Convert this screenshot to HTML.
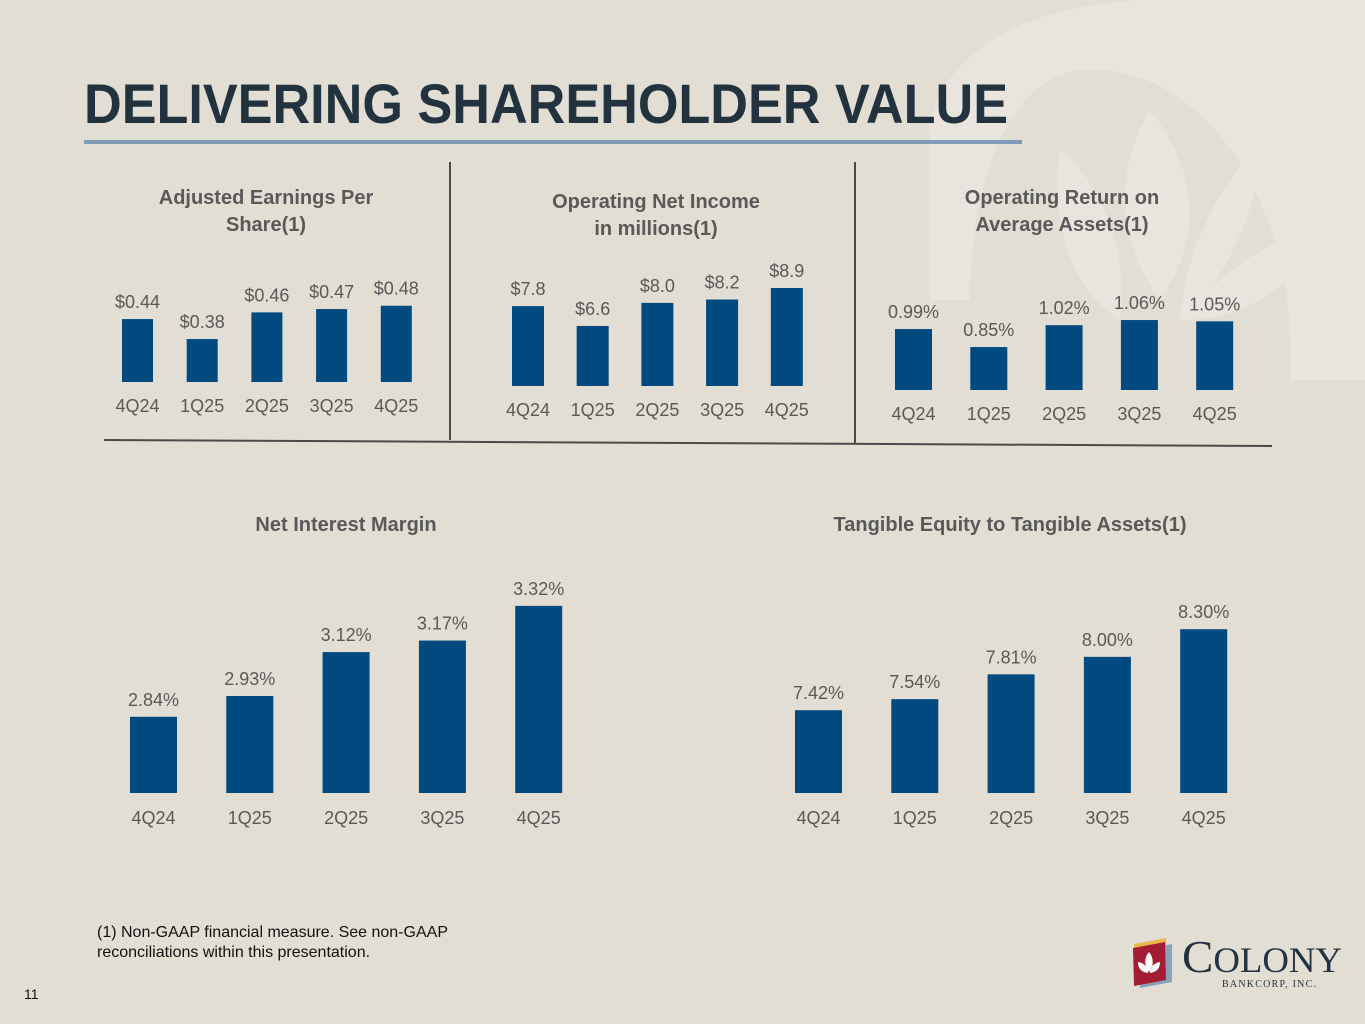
<!DOCTYPE html>
<html><head><meta charset="utf-8">
<style>
html,body{margin:0;padding:0;background:#e2ded4;}
svg{display:block;font-family:"Liberation Sans",sans-serif;}
</style></head>
<body>
<svg id="s" width="1365" height="1024" viewBox="0 0 1365 1024">
  <rect width="1365" height="1024" fill="#e2ded4"/>
  <g fill="#e9e5de">
    <path d="M930 120 C960 20 1080 -10 1250 0 L1365 0 L1365 380 L1290 380 C1300 200 1200 60 1080 70 C1000 80 970 200 970 300 L930 300 Z"/>
    <path d="M1150 110 C1190 160 1210 230 1160 300 C1110 230 1120 160 1150 110 Z"/>
    <path d="M1060 150 C1100 180 1130 250 1120 320 C1070 290 1050 220 1060 150 Z"/>
    <path d="M1265 140 C1255 220 1220 290 1180 320 C1185 250 1220 180 1265 140 Z"/>
    <path d="M1335 215 C1300 290 1240 320 1180 320 C1220 270 1280 235 1335 215 Z"/>
  </g>
  <text x="84" y="123" font-size="56" font-weight="bold" fill="#22323f" textLength="924" lengthAdjust="spacingAndGlyphs">DELIVERING SHAREHOLDER VALUE</text>
  <rect x="84" y="140" width="938" height="4" fill="#7f9bb5"/>
  <line x1="450" y1="162" x2="450" y2="440" stroke="#4a4a4a" stroke-width="2"/>
  <line x1="855" y1="162" x2="855" y2="443" stroke="#4a4a4a" stroke-width="2"/>
  <line x1="104" y1="440" x2="1272" y2="446" stroke="#4a4a4a" stroke-width="2"/>
  <g id="charts"></g>
  <text font-size="16" fill="#111"><tspan x="97" y="937">(1) Non-GAAP financial measure. See non-GAAP</tspan><tspan x="97" y="957">reconciliations within this presentation.</tspan></text>
  <text x="24" y="999" font-size="14" fill="#111">11</text>
  <g>
    <path d="M1134 944 L1166 938 L1168 978 L1136 984 Z" fill="#e8b84a"/>
    <path d="M1140 950 L1172 944 L1172 982 L1140 988 Z" fill="#8aa2b8"/>
    <path d="M1133 948 L1165 942 L1166 980 L1134 986 Z" fill="#a31d35"/>
    <path d="M1149 952 C1154 958 1154 966 1149 972 C1144 966 1144 958 1149 952 Z M1138 962 C1145 963 1148 968 1148 973 C1141 972 1138 968 1138 962 Z M1160 962 C1153 963 1150 968 1150 973 C1157 972 1160 968 1160 962 Z" fill="#fff"/>
    <text x="1182" y="972" font-family="Liberation Serif,serif" font-size="46" fill="#22323f" textLength="160" lengthAdjust="spacingAndGlyphs">C<tspan font-size="36">OLONY</tspan></text>
    <text x="1222" y="987" font-family="Liberation Serif,serif" font-size="10" fill="#22323f" textLength="94">BANKCORP, INC.</text>
  </g>
</svg>
<script>
// Chart data
const categories = ["4Q24","1Q25","2Q25","3Q25","4Q25"];
const epsValues = [0.44,0.38,0.46,0.47,0.48];
const epsLabels = ["$0.44","$0.38","$0.46","$0.47","$0.48"];
const incomeValues = [7.8,6.6,8.0,8.2,8.9];
const incomeLabels = ["$7.8","$6.6","$8.0","$8.2","$8.9"];
const roaaValues = [0.99,0.85,1.02,1.06,1.05];
const roaaLabels = ["0.99%","0.85%","1.02%","1.06%","1.05%"];
const nimValues = [2.84,2.93,3.12,3.17,3.32];
const nimLabels = ["2.84%","2.93%","3.12%","3.17%","3.32%"];
const teValues = [7.42,7.54,7.81,8.00,8.30];
const teLabels = ["7.42%","7.54%","7.81%","8.00%","8.30%"];

const NS="http://www.w3.org/2000/svg";
const root=document.getElementById("charts");
function mk(tag,attrs,parent){const e=document.createElementNS(NS,tag);for(const k in attrs)e.setAttribute(k,attrs[k]);parent.appendChild(e);return e;}

const configs=[
 {name:"adjusted-eps",title:["Adjusted Earnings Per","Share(1)"],titleX:266,titleY:[204,231],vals:epsValues,labels:epsLabels,x0:122,step:64.7,bw:31,base:382,min:0.251,scale:333,catY:412,fs:18},
 {name:"operating-net-income",title:["Operating Net Income","in millions(1)"],titleX:656,titleY:[208,235],vals:incomeValues,labels:incomeLabels,x0:512,step:64.7,bw:32,base:386,min:2.96,scale:16.5,catY:416,fs:18},
 {name:"operating-roaa",title:["Operating Return on","Average Assets(1)"],titleX:1062,titleY:[204,231],vals:roaaValues,labels:roaaLabels,x0:895,step:75.3,bw:37,base:390,min:0.516,scale:128.6,catY:420,fs:18},
 {name:"net-interest-margin",title:["Net Interest Margin"],titleX:346,titleY:[531],vals:nimValues,labels:nimLabels,x0:130,step:96.3,bw:47,base:793,min:2.51,scale:231,catY:824,fs:18},
 {name:"tangible-equity-ratio",title:["Tangible Equity to Tangible Assets(1)"],titleX:1010,titleY:[531],vals:teValues,labels:teLabels,x0:795,step:96.3,bw:47,base:793,min:6.52,scale:92,catY:824,fs:18}
];

configs.forEach(c=>{
  const g=mk("g",{},root);
  
  
  const yOf=v=>c.base-(v-c.min)*c.scale;
  c.title.forEach((t,i)=>{
    const tt=mk("text",{x:c.titleX,y:c.titleY[i],"text-anchor":"middle","font-size":20,"font-weight":"bold",fill:"#595959"},g);
    
    
    tt.textContent=t;
  });
  c.vals.forEach((v,i)=>{
    const x=c.x0+i*c.step, y=yOf(v);
    const r=mk("rect",{x:x,y:y,width:c.bw,height:c.base-y,fill:"#004a80"},g);
    
    
    const lt=mk("text",{x:x+c.bw/2,y:y-11,"text-anchor":"middle","font-size":c.fs,fill:"#595959"},g);
    
    
    lt.textContent=c.labels[i];
    const ct=mk("text",{x:x+c.bw/2,y:c.catY,"text-anchor":"middle","font-size":c.fs,fill:"#595959"},g);
    
    
    ct.textContent=categories[i];
  });
});
</script>
</body></html>
